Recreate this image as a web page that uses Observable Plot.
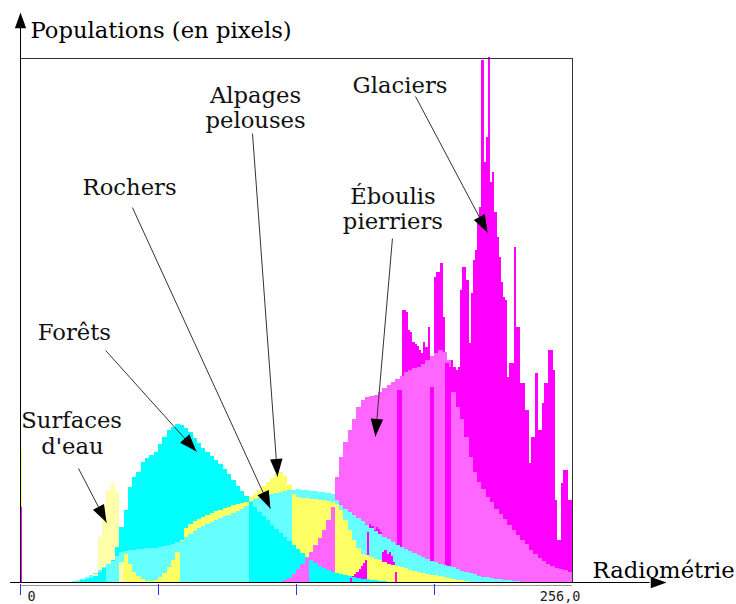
<!DOCTYPE html>
<html>
<head>
<meta charset="utf-8">
<script src="https://cdn.jsdelivr.net/npm/d3@7"></script>
<script src="https://cdn.jsdelivr.net/npm/@observablehq/plot@0.6"></script>
<style>
  html, body { margin: 0; padding: 0; background: #fff; }
</style>
</head>
<body>
<div id="chart"></div>
<script>
// ---- Data (radiometry 0..256, populations in arbitrary units 0..524) ----
const seriesNames = ["Surfaces d'eau", "Forêts", "Rochers", "Alpages pelouses", "Éboulis pierriers", "Glaciers"];
const seriesColors = ["#ffffaa", "#00ffff", "#66ffff", "#ffff66", "#ff66ff", "#ff00ff"];

// values per bin; start = first radiometry value, step = bin width
const surfacesEau = [8, 45, 75, 92, 99, 90, 20];                       // start 34, step 2
const forets = [2,3,4,6,10,14,18,22,35,55,72,95,105,110,120,124,127,130,138,145,152,155,158,157,154,150,144,139,134,130,126,122,118,113,108,102,96,91,86,80,75,70,66,62,57,53,49,45,41,37,33,29,25,22,19,16,14,12,10,9,8,7,6,5,4,3,3,2,2,1,1]; // start 28, step 2
const rochers = [1,2,3,5,7,9,12,15,18,21,26,30,31,32,32,33,33,34,34,34,35,36,37,38,40,41,45,48,51,54,56,58,60,62,64,66,67,69,71,73,76,81,83,84,86,87,88,89,90,91,92,92,93,92,92,91,91,90,90,89,88,82,77,73,70,67,64,61,57,54,51,48,45,43,40,37,35,33,31,29,27,25,23,21,20,18,17,16,15,13,11,10,9,8,6,5,5,4,3,3,2,2,1,1]; // start 24, step 2
const alpages = [28,18,10,6,3,1,1,2,5,9,15,22,30,42,54,58,61,63,65,67,69,71,72,74,75,77,78,79,80,85,88,92,96,100,104,108,110,106,97,88,85,84,84,83,83,82,82,81,80,78,72,62,52,42,34,28,27,25,23,22,20,18,17,16,15,14,12,11,10,9,8,7,7,6,5,4,3,2,2,1]; // start 48, step 2
const eboulis = [2,4,8,13,18,24,30,37,44,52,62,75,105,125,140,152,163,175,182,185,186,187,190,194,197,200,203,206,210,212,214,215,218,222,226,229,232,230,222,190,175,163,145,125,110,100,93,85,80,73,68,63,57,52,47,42,38,32,28,24,21,18,16,14,13,12,10]; // start 122, step 2
const glaciers = [4,6,8,10,13,16,19,22,50,58,56,52,55,53,50,30,32,28,30,26,20,10,192,192,272,272,270,252,250,240,238,236,232,229,240,235,255,195,195,305,310,310,319,265,219,219,215,222,215,212,215,292,315,315,302,239,289,322,332,359,375,522,420,445,525,400,410,370,345,325,300,285,282,205,219,219,335,255,255,199,199,172,172,119,145,145,209,152,152,179,199,199,232,232,212,82,42,42,99,112,112,82,82]; // start 153, step 1
const origine = [["Alpages pelouses", 132], ["Glaciers", 75]];        // radiometry 0, width 1

const segments = [
  {name: "Surfaces d'eau", start: 34, step: 2, values: surfacesEau},
  {name: "Forêts", start: 28, step: 2, values: forets},
  {name: "Rochers", start: 24, step: 2, values: rochers},
  {name: "Alpages pelouses", start: 48, step: 2, values: alpages},
  {name: "Éboulis pierriers", start: 122, step: 2, values: eboulis},
  {name: "Glaciers", start: 153, step: 1, values: glaciers}
];

// annotation labels (centre x, baseline y in data units)
const labelText = ["Glaciers", "Éboulis", "pierriers", "Alpages", "pelouses", "Rochers", "Forêts", "Surfaces", "d'eau"];
const labelX = [176, 172.7, 172.7, 109, 109, 50.6, 25, 23.7, 24.1];
const labelY = [490, 379, 354, 480, 455, 388, 243, 155, 129];

// arrows: from (x1,y1) to tip (x2,y2)
const arrowX1 = [183.2, 172.5, 107.6, 51.9, 39.5, 26.9];
const arrowY1 = [486, 344, 449, 375, 232, 114];
const arrowX2 = [216.6, 164.6, 119.2, 115.9, 81.6, 39.9];
const arrowY2 = [350, 146, 106, 74, 131, 60];

const ticks = [0, 64, 128, 192];
const tickLabels = ["0", "256,0"];

// ---- Build tables ----
const rows = [];
for (const s of segments) {
  s.values.forEach((v, i) => {
    if (v > 0) rows.push({name: s.name, x1: s.start + i * s.step, x2: s.start + (i + 1) * s.step, v});
  });
}
for (const [name, v] of origine) rows.push({name, x1: 0, x2: 1, v});
rows.sort((a, b) => b.v - a.v); // taller bars behind, shorter in front

const labels = labelText.map((t, i) => ({text: t, x: labelX[i], y: labelY[i]}));
const arrows = arrowX1.map((x1, i) => ({x1, y1: arrowY1[i], x2: arrowX2[i], y2: arrowY2[i]}));

const W = 736, H = 604, mt = 58, mb = 22, ml = 20, mr = 164;
const sx = Plot.scale({x: {domain: [0, 256], range: [ml, W - mr]}});
const sy = Plot.scale({y: {domain: [0, 524], range: [H - mb, mt]}});
const angle = d => Math.atan2(sx.apply(d.x2) - sx.apply(d.x1), -(sy.apply(d.y2) - sy.apply(d.y1))) * 180 / Math.PI;

const head = {
  draw(ctx, size) {
    const r = Math.sqrt(size / Math.PI);
    const L = r * 3.5, w = r * 1.25;
    ctx.moveTo(0, 0);
    ctx.lineTo(-w, L);
    ctx.lineTo(w, L);
    ctx.closePath();
  }
};

const axisHeads = [{x: 0, y: 570, rot: 0}, {x: 299.6, y: 0, rot: 90}];

const serif = "'DejaVu Serif', serif";
const mono = "'DejaVu Sans Mono', monospace";
const fs = 22.7;

const chart = Plot.plot({
  width: W, height: H,
  marginTop: mt, marginBottom: mb, marginLeft: ml, marginRight: mr,
  x: {domain: [0, 256], axis: null},
  y: {domain: [0, 524], axis: null},
  color: {domain: seriesNames, range: seriesColors},
  style: {background: "#fff", overflow: "visible"},
  marks: [
    Plot.rect(rows, {x1: "x1", x2: "x2", y1: 0, y2: "v", fill: "name", shapeRendering: "crispEdges"}),
    Plot.frame({stroke: "#333"}),
    Plot.ruleY([-3], {x1: 0, x2: 256, stroke: "#999"}),
    Plot.ruleX(ticks, {y1: -2, y2: -13, stroke: "#3333ff"}),
    Plot.ruleX([0], {y1: -1, y2: 556, stroke: "#000"}),
    Plot.ruleY([0], {x1: -4.6, x2: 292, stroke: "#000"}),
    Plot.dot(axisHeads, {x: "x", y: "y", rotate: "rot", symbol: head, r: 4.5, fill: "#000", stroke: "none"}),
    Plot.text([tickLabels[0]], {x: 0, y: -18, text: d => d, dx: 7, textAnchor: "start", lineAnchor: "bottom", fontFamily: mono, fontSize: 13.5, fill: "#222"}),
    Plot.text([tickLabels[1]], {x: 256, y: -18, text: d => d, dx: 8, textAnchor: "end", lineAnchor: "bottom", fontFamily: mono, fontSize: 13.5, fill: "#222"}),
    Plot.text(["Populations (en pixels)"], {x: 4.6, y: 545, text: d => d, textAnchor: "start", lineAnchor: "bottom", fontFamily: serif, fontSize: fs, fill: "#000"}),
    Plot.text(["Radiométrie"], {x: 265.3, y: 4.3, text: d => d, textAnchor: "start", lineAnchor: "bottom", fontFamily: serif, fontSize: fs, fill: "#000"}),
    Plot.link(arrows, {x1: "x1", y1: "y1", x2: "x2", y2: "y2", stroke: "#333", strokeWidth: 1}),
    Plot.dot(arrows, {x: "x2", y: "y2", rotate: angle, symbol: head, r: 5, fill: "#000", stroke: "none"}),
    Plot.text(labels, {x: "x", y: "y", text: "text", textAnchor: "middle", lineAnchor: "bottom", fontFamily: serif, fontSize: fs, fill: "#111"})
  ]
});
document.getElementById("chart").append(chart);
</script>
</body>
</html>
